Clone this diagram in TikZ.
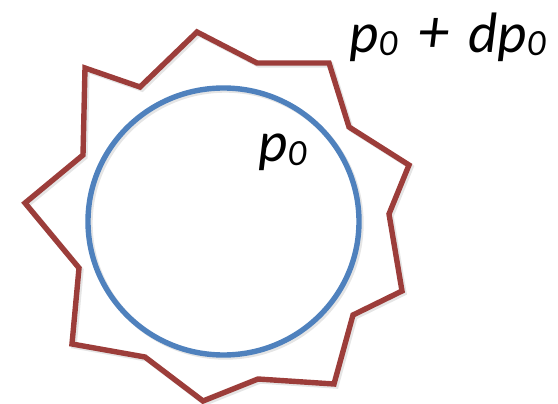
\documentclass[tikz,border=0pt]{standalone}
\usepackage{fontspec}
\setmainfont{Carlito}
\usetikzlibrary{positioning}
\definecolor{boundred}{HTML}{9C3D3A}
\definecolor{levelblue}{HTML}{4F81BD}
\definecolor{faint}{HTML}{D4D4D4}
\tikzset{
  contour/.style={line width=5.4pt,line join=miter},
  ghost/.style={contour,draw=faint,opacity=.6},
  lbl/.style={font=\fontsize{57}{57}\selectfont\itshape,inner sep=0pt,anchor=base west}
}
\newcommand{\subnull}{\raisebox{-3pt}{\fontsize{37}{37}\selectfont 0}}

\begin{document}
\begin{tikzpicture}[x=1pt,y=-1pt]
  \useasboundingbox (0,0) rectangle (558,404);
  % soft shadows
  \draw[ghost,shift={(2,2)}] (223.5,221.5) ellipse [x radius=135.5,y radius=133.5];
  \draw[ghost,shift={(2,2)}] (25,203) -- (83,155) -- (85,68) -- (140,87) -- (197,32) -- (257,63)
    -- (329,63) -- (349,127) -- (409,165) -- (389,214) -- (402,291) -- (353,315)
    -- (334,384) -- (258,379) -- (203,401) -- (145,357) -- (72,344) -- (79,268) -- cycle;
  % perturbed boundary
  \draw[contour,draw=boundred] (25,203) -- (83,155) -- (85,68) -- (140,87) -- (197,32) -- (257,63)
    -- (329,63) -- (349,127) -- (409,165) -- (389,214) -- (402,291) -- (353,315)
    -- (334,384) -- (258,379) -- (203,401) -- (145,357) -- (72,344) -- (79,268) -- cycle;
  % level set
  \draw[contour,draw=levelblue] (223.5,221.5) ellipse [x radius=135.5,y radius=133.5];
  \node[lbl] (pinner) at (258,162) {p\subnull};
  \node[lbl] (pouter) at (349,53) {p\subnull\hspace{21pt}{\fontsize{62}{62}\selectfont+}\hspace{19pt}dp\subnull};
\end{tikzpicture}
\end{document}
